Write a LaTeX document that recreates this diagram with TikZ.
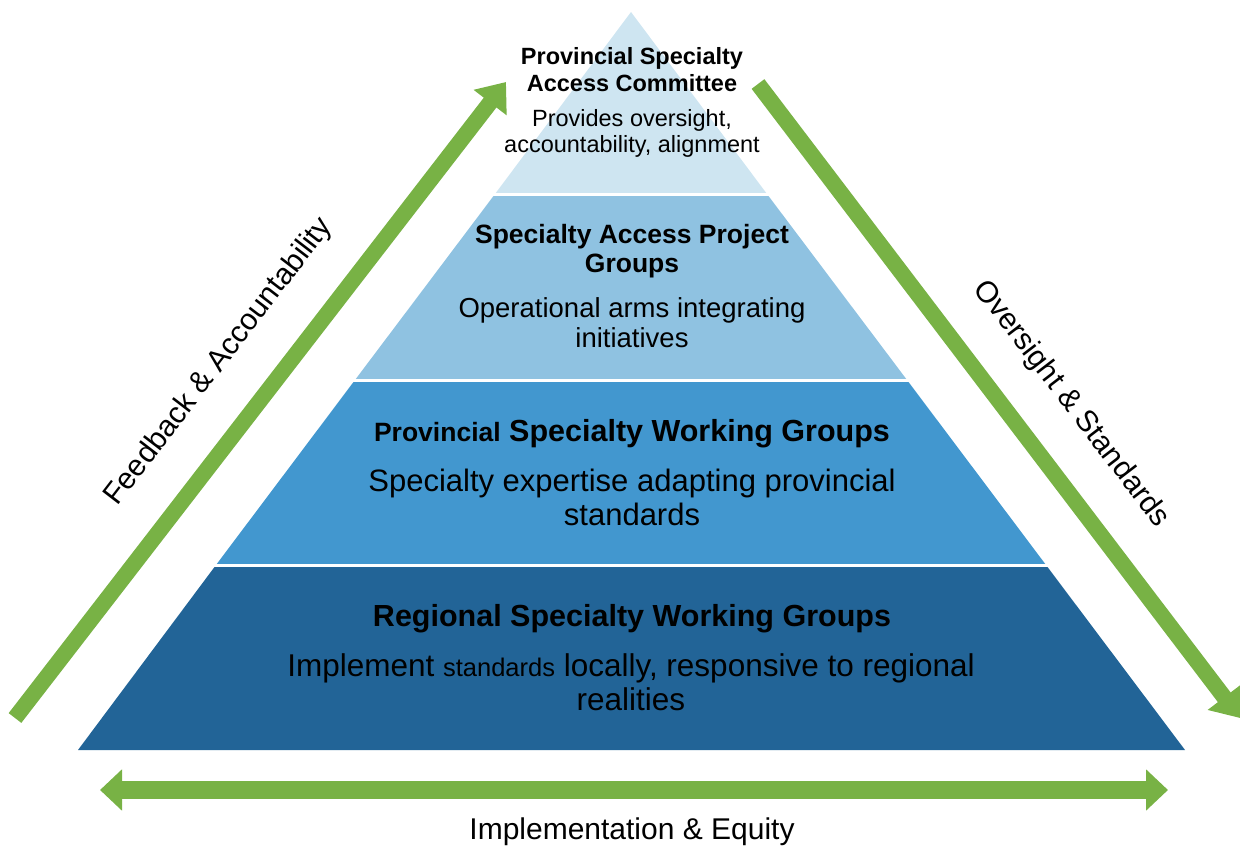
\documentclass[tikz,border=0pt]{standalone}
\usepackage{fontspec}
\setmainfont{Liberation Sans}
\usetikzlibrary{arrows.meta}

\definecolor{tierone}{HTML}{CEE5F1}
\definecolor{tiertwo}{HTML}{8FC2E1}
\definecolor{tierthree}{HTML}{4297CF}
\definecolor{tierfour}{HTML}{226497}
\definecolor{flowgreen}{HTML}{78B245}

\begin{document}
\begin{tikzpicture}[x=1pt, y=-1pt,
    flow/.style={draw=flowgreen, line width=16pt, -{Triangle[width=40pt, length=26pt]}},
    both/.style={draw=flowgreen, line width=18pt, {Triangle[width=40pt, length=22pt]}-{Triangle[width=40pt, length=22pt]}},
    gap/.style={draw=white, line width=3pt},
    label/.style={align=center, inner sep=0pt}]

    \useasboundingbox (0,0) rectangle (1240,848);

    % Pyramid tiers, apex at (631,12), base at y=750
    \fill[tierfour]  (78,750) -- (1185,750) -- (1046,565) -- (216,565) -- cycle;
    \fill[tierthree] (216,565) -- (1046,565) -- (907,380) -- (355,380) -- cycle;
    \fill[tiertwo]   (355,380) -- (907,380) -- (767,194) -- (495,194) -- cycle;
    \fill[tierone]   (495,194) -- (767,194) -- (631,12) -- cycle;

    % White seams between the tiers
    \draw[gap] (214,565) -- (1048,565);
    \draw[gap] (353,380) -- (909,380);
    \draw[gap] (493,194) -- (769,194);

    % Tier texts
    \node[label, font=\bfseries\fontsize{23.5}{27}\selectfont] (top) at (632,70) {Provincial Specialty\\Access Committee};
    \node[label, font=\fontsize{23.5}{26}\selectfont] (topdesc) at (632,133) {Provides oversight,\\accountability, alignment};

    \node[label, font=\bfseries\fontsize{26.5}{29}\selectfont] (project) at (632,251) {Specialty Access Project\\Groups};
    \node[label, font=\fontsize{27.5}{30}\selectfont] (projectdesc) at (632,323) {Operational arms integrating\\initiatives};

    \node[label, font=\bfseries\fontsize{30.5}{32}\selectfont] (prov) at (632,434) {{\fontsize{26.5}{32}\selectfont Provincial} Specialty Working Groups};
    \node[label, font=\fontsize{31}{34}\selectfont] (provdesc) at (632,497) {Specialty expertise adapting provincial\\standards};

    \node[label, font=\bfseries\fontsize{30.5}{32}\selectfont] (region) at (632,619) {Regional Specialty Working Groups};
    \node[label, font=\fontsize{31.5}{34}\selectfont] (regiondesc) at (631,682) {Implement {\fontsize{25.5}{34}\selectfont standards} locally, responsive to regional\\realities};

    % Flow arrows around the pyramid
    \coordinate (upfrom) at (15,718);
    \coordinate (upto) at (506,82);
    \coordinate (downfrom) at (758,84);
    \coordinate (downto) at (1240,718);
    \coordinate (spanleft) at (100,790);
    \coordinate (spanright) at (1168,790);

    \draw[flow] (upfrom) -- (upto);
    \draw[flow] (downfrom) -- (downto);
    \draw[both] (spanleft) -- (spanright);

    \node[label, rotate=52.5, font=\fontsize{30}{32}\selectfont] (feedback) at (219,362) {Feedback \& Accountability};
    \node[label, rotate=-52.5, font=\fontsize{30}{32}\selectfont] (oversight) at (1071,404) {Oversight \& Standards};
    \node[label, font=\fontsize{30}{32}\selectfont] (equity) at (632,832) {Implementation \& Equity};
\end{tikzpicture}
\end{document}
